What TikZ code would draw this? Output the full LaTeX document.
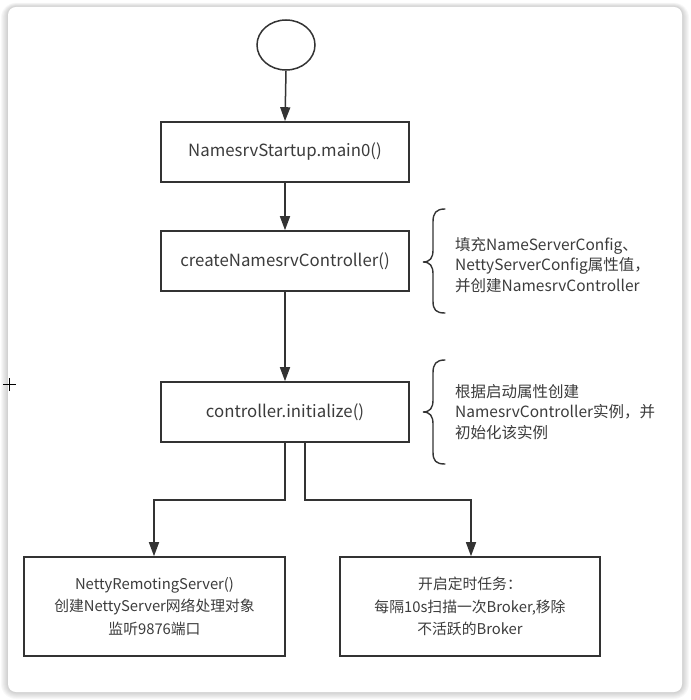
\documentclass[tikz,border=0pt]{standalone}
\usepackage{fontspec}
\setmainfont{Noto Sans CJK SC}
\usetikzlibrary{arrows.meta,shapes.geometric}
\definecolor{ink}{HTML}{333333}
\definecolor{txt}{HTML}{3C3C3C}
\begin{document}
\begin{tikzpicture}[x=1pt,y=-1pt,
  flow/.style={draw=ink, line width=1.6pt, fill=white, minimum width=248pt,
    minimum height=60pt, inner sep=0pt, align=center, text=txt,
    font=\fontsize{16.8pt}{22pt}\selectfont},
  wide/.style={flow, minimum height=99pt, font=\fontsize{14.8pt}{22.5pt}\selectfont},
  note/.style={anchor=west, align=left, inner sep=0pt, text=txt,
    font=\fontsize{15.5pt}{20.5pt}\selectfont},
  link/.style={draw=ink, line width=1.5pt, -{Triangle[length=14pt,width=10pt]}},
  bracket/.style={draw=ink, line width=1.4pt, line cap=round}]
\useasboundingbox (0,0) rectangle (690,700);

% soft frame shadow
\foreach \i in {1,...,7}
  \fill[black, opacity=0.028, rounded corners={8pt+\i pt}]
    ({8-\i},{7-\i*0.6}) rectangle ({682+\i},{692+\i});
\fill[white, rounded corners=8pt] (8,7) rectangle (682,692);

% start symbol
\node[ellipse, draw=ink, line width=1.5pt, minimum width=58pt, minimum height=50pt,
  inner sep=0pt] (start) at (286,45) {};

% main steps
\node[flow] (main)  at (285,152) {NamesrvStartup.main0()};
\node[flow] (create) at (285,261) {createNamesrvController()};
\node[flow] (init)  at (285,412) {controller.initialize()};
\node[wide, minimum width=261pt] (netty) at (154.5,606.5)
  {NettyRemotingServer()\\创建NettyServer网络处理对象\\监听9876端口};
\node[wide, minimum width=260pt] (task) at (470,606.5)
  {开启定时任务：\\每隔10s扫描一次Broker,移除\\不活跃的Broker};

% connectors
\draw[link] (start.south) -- (main.north);
\draw[link] (main.south) -- (create.north);
\draw[link] (create.south) -- (init.north);
\coordinate (ls) at (285,442);
\coordinate (rs) at (305,442);
\draw[link] (ls) |- (154,500) -- (netty.north -| 154,0);
\draw[link] (rs) |- (471,500) -- (task.north -| 471,0);

% side notes with braces
\draw[bracket] (445,209) .. controls (436,209) and (433,213) .. (433,222)
  -- (433,250) .. controls (433,258) and (430,262) .. (423,262)
  .. controls (430,262) and (433,266) .. (433,274)
  -- (433,301) .. controls (433,310) and (436,313) .. (445,313);
\node[note] (cfgnote) at (455,265)
  {填充NameServerConfig、\\NettyServerConfig属性值，\\并创建NamesrvController};

\draw[bracket] (445,360) .. controls (436,360) and (433,364) .. (433,373)
  -- (433,400) .. controls (433,408) and (430,412) .. (423,412)
  .. controls (430,412) and (433,416) .. (433,424)
  -- (433,452) .. controls (433,461) and (436,464) .. (445,464);
\node[note] (initnote) at (455,412)
  {根据启动属性创建\\NamesrvController实例，并\\初始化该实例};

% pointer cross
\draw[black, line width=0.9pt] (3,384) -- (16,384) (9.5,378) -- (9.5,391);
\end{tikzpicture}
\end{document}
